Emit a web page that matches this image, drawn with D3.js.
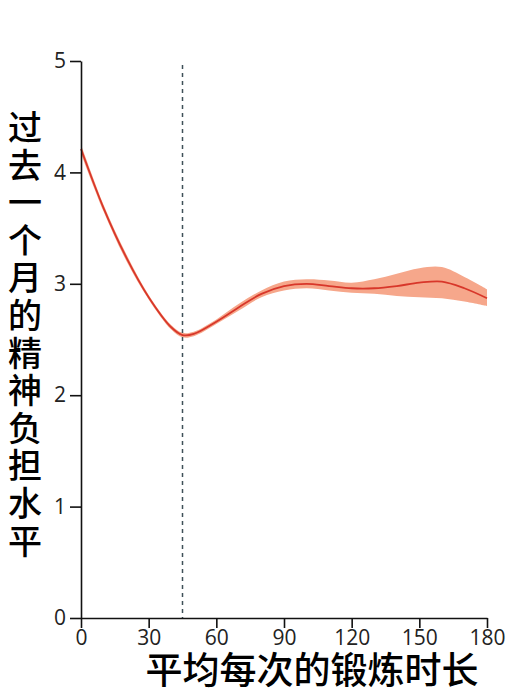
<!DOCTYPE html>
<html>
<head>
<meta charset="utf-8">
<script src="https://cdn.jsdelivr.net/npm/d3@7"></script>
<style>
  body { margin:0; background:#fff; }
  svg { display:block; }
</style>
</head>
<body>
<svg id="chart" width="530" height="697"></svg>
<script>
// data
var minutos   = [0, 10, 20, 30, 40, 45, 50, 60, 70, 80, 90, 100, 110, 120, 130, 140, 150, 160, 170, 180];
var media     = [4.21, 3.68, 3.24, 2.88, 2.61, 2.54, 2.55, 2.66, 2.79, 2.91, 2.98, 3.00, 2.98, 2.96, 2.96, 2.98, 3.01, 3.02, 2.96, 2.87];
var superior  = [4.25, 3.71, 3.27, 2.90, 2.63, 2.56, 2.57, 2.68, 2.82, 2.94, 3.02, 3.04, 3.03, 3.01, 3.04, 3.09, 3.14, 3.15, 3.06, 2.95];
var inferior  = [4.17, 3.65, 3.21, 2.86, 2.59, 2.52, 2.53, 2.64, 2.76, 2.88, 2.94, 2.96, 2.94, 2.92, 2.91, 2.89, 2.88, 2.87, 2.84, 2.80];
var ticksX    = [0, 30, 60, 90, 120, 150, 180];
var ticksY    = [0, 1, 2, 3, 4, 5];
var corte     = 45;
var tituloY   = "过去一个月的精神负担水平";
var tituloX   = "平均每次的锻炼时长";

var svg = d3.select("#chart");

var x = d3.scaleLinear().domain([0, 180]).range([81, 487]);
var y = d3.scaleLinear().domain([0, 5]).range([618, 61]);

var puntos = minutos.map(function(m, i){
    return {m: m, v: media[i], s: superior[i], i: inferior[i]};
});

// banda de confianza
var area = d3.area()
    .x(function(d){ return x(d.m); })
    .y0(function(d){ return y(d.i); })
    .y1(function(d){ return y(d.s); })
    .curve(d3.curveCatmullRom);

svg.append("path")
    .datum(puntos)
    .attr("d", area)
    .attr("fill", "#f6a78b");

// linea vertical punteada
svg.append("line")
    .attr("x1", x(corte)).attr("x2", x(corte))
    .attr("y1", 65).attr("y2", y(0))
    .attr("stroke", "#3f5058")
    .attr("stroke-width", 1.5)
    .attr("stroke-dasharray", "4,4");

var linea = d3.line()
    .x(function(d){ return x(d.m); })
    .y(function(d){ return y(d.v); })
    .curve(d3.curveCatmullRom);

svg.append("path")
    .datum(puntos)
    .attr("d", linea)
    .attr("fill", "none")
    .attr("stroke", "#d8372a")
    .attr("stroke-width", 1.8);

// ejes
var ejeX = svg.append("g")
    .attr("transform", "translate(0," + y(0) + ")")
    .call(d3.axisBottom(x).tickValues(ticksX).tickFormat(d3.format("d"))
        .tickSize(10).tickPadding(2).tickSizeOuter(0));

var ejeY = svg.append("g")
    .attr("transform", "translate(" + x(0) + ",0)")
    .call(d3.axisLeft(y).tickValues(ticksY).tickFormat(d3.format("d"))
        .tickSize(11).tickPadding(4).tickSizeOuter(0));

[ejeX, ejeY].forEach(function(g){
    g.select(".domain").attr("stroke", "#111").attr("stroke-width", 1.6);
    g.selectAll(".tick line").attr("stroke", "#111").attr("stroke-width", 1.6);
    g.selectAll(".tick text")
        .style("font-family", "Open Sans")
        .style("font-size", "21px")
        .attr("fill", "#222");
});

// titulo eje Y, vertical
svg.append("text")
    .attr("x", 25)
    .attr("y", 110)
    .style("writing-mode", "vertical-rl")
    .style("text-orientation", "upright")
    .style("letter-spacing", "3.6px")
    .style("font-family", "Noto Sans CJK SC")
    .style("font-size", "34px")
    .style("font-weight", "500")
    .attr("fill", "#000")
    .text(tituloY);

svg.append("text")
    .attr("x", 312)
    .attr("y", 684)
    .attr("text-anchor", "middle")
    .style("font-family", "Noto Sans CJK SC")
    .style("font-size", "37px")
    .style("font-weight", "500")
    .attr("fill", "#000")
    .text(tituloX);
</script>
</body>
</html>
